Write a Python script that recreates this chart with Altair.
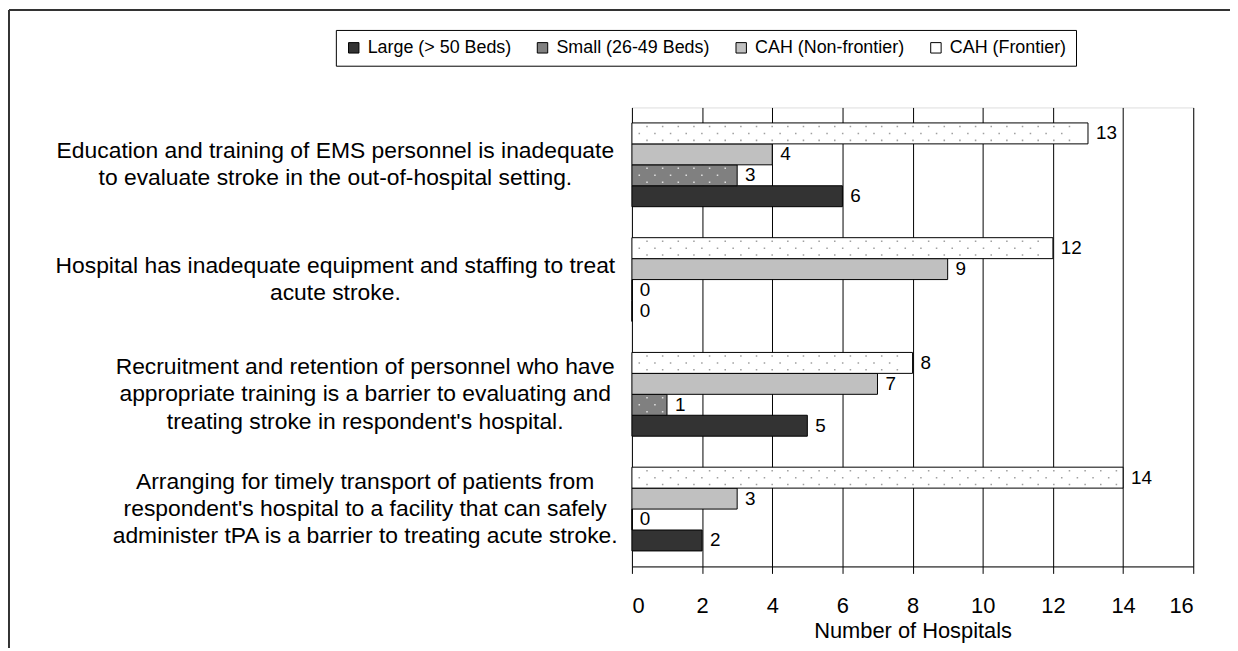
import altair as alt
import pandas as pd

questions = [
    "Education and training of EMS personnel is inadequate\nto evaluate stroke in the out-of-hospital setting.",
    "Hospital has inadequate equipment and staffing to treat\nacute stroke.",
    "Recruitment and retention of personnel who have\nappropriate training is a barrier to evaluating and\ntreating stroke in respondent's hospital.",
    "Arranging for timely transport of patients from\nrespondent's hospital to a facility that can safely\nadminister tPA is a barrier to treating acute stroke.",
]
series = ["Large (> 50 Beds)", "Small (26-49 Beds)", "CAH (Non-frontier)", "CAH (Frontier)"]
large = [6, 0, 5, 2]
small = [3, 0, 1, 0]
cah_nonfrontier = [4, 9, 7, 3]
cah_frontier = [13, 12, 8, 14]
colors = ["#333333", "#808080", "#c0c0c0", "#ffffff"]

values_by_series = [large, small, cah_nonfrontier, cah_frontier]
rows = []
for s, vals in zip(series, values_by_series):
    for q, v in zip(questions, vals):
        rows.append({"question": q, "series": s, "value": v})
df = pd.DataFrame(rows)
qdf = pd.DataFrame({"question": questions})

FONT = "Liberation Sans"
LABEL_SIZE = 23
LINE_H = 27.5
top_to_bottom = list(reversed(series))

y_enc = alt.Y(
    "question:N",
    sort=questions,
    scale=alt.Scale(paddingInner=0.27, paddingOuter=0.135),
    axis=alt.Axis(
        title=None,
        labels=False,
        tickBand="extent",
        tickSize=7,
        tickColor="black",
        domainColor="black",
        grid=False,
    ),
)
yoff = alt.YOffset("series:N", sort=top_to_bottom, scale=alt.Scale(paddingInner=0, paddingOuter=0))
x_enc = alt.X(
    "value:Q",
    scale=alt.Scale(domain=[0, 16]),
    axis=alt.Axis(
        title="Number of Hospitals",
        values=list(range(0, 17, 2)),
        tickSize=7,
        tickColor="black",
        domainColor="black",
        gridColor="black",
        gridWidth=1,
        labelFontSize=22,
        labelFont=FONT,
        labelColor="black",
        labelPadding=22,
        titleFontSize=22,
        titleFont=FONT,
        titleFontWeight="normal",
        titleColor="black",
        titlePadding=5,
    ),
)

base = alt.Chart(df)
bars = base.mark_bar(stroke="black", strokeWidth=1).encode(
    y=y_enc,
    yOffset=yoff,
    x=x_enc,
    color=alt.Color(
        "series:N",
        scale=alt.Scale(domain=series, range=colors),
        legend=alt.Legend(
            orient="none",
            legendX=-298,
            legendY=-78,
            direction="horizontal",
            title=None,
            strokeColor="black",
            fillColor="white",
            padding=9,
            symbolType="square",
            symbolSize=110,
            symbolStrokeColor="black",
            symbolStrokeWidth=1,
            symbolOpacity=1,
            labelFontSize=18,
            labelFont=FONT,
            labelColor="black",
            columnPadding=22,
            labelOffset=5,
        ),
    ),
)

# dotted fill texture (three staggered rows of tiny dots) for "Small" and "CAH (Frontier)"
DOT_TILE = (
    "M-0.11,-1.11h0.22v0.22h-0.22z "
    "M-0.11,0.89h0.22v0.22h-0.22z "
    "M-1.22,-0.11h0.22v0.22h-0.22z"
)

def dots(series_name, dot_color):
    return (
        base.transform_filter(alt.datum.series == series_name)
        .transform_calculate(d="sequence(0.43, datum.value - 0.1, 0.446)")
        .transform_flatten(["d"])
        .mark_point(shape=DOT_TILE, filled=True, size=196, color=dot_color, opacity=1, strokeWidth=0)
        .encode(
            y=alt.Y("question:N", sort=questions, axis=None),
            yOffset=yoff,
            x=alt.X("d:Q"),
        )
    )

dot_layers = [dots("CAH (Frontier)", "#a0a0a0"), dots("Small (26-49 Beds)", "#e0e0e0")]

values_text = base.mark_text(
    align="left", baseline="middle", dx=8, fontSize=19, font=FONT, color="black"
).encode(
    y=alt.Y("question:N", sort=questions, axis=None),
    yOffset=yoff,
    x=alt.X("value:Q"),
    text=alt.Text("value:Q"),
)

def question_labels(n_lines, center_x):
    return (
        alt.Chart(qdf)
        .transform_calculate(nl="length(split(datum.question, '\\n'))")
        .transform_filter(f"datum.nl == {n_lines}")
        .mark_text(
            align="center",
            baseline="middle",
            lineBreak="\n",
            lineHeight=LINE_H,
            fontSize=LABEL_SIZE,
            font=FONT,
            color="black",
            dy=-(n_lines - 1) * LINE_H / 2,
        )
        .encode(
            y=alt.Y("question:N", sort=questions, axis=None),
            x=alt.value(center_x),
            text="question:N",
        )
    )

labels2 = question_labels(2, -298.5)
labels3 = question_labels(3, -268.5)

frame_df = pd.DataFrame({"k": [0]})
frame_left = alt.Chart(frame_df).mark_rule(color="#333333", strokeWidth=2).encode(
    x=alt.value(-627), y=alt.value(-98), y2=alt.value(580)
)
frame_top = alt.Chart(frame_df).mark_rule(color="#333333", strokeWidth=2).encode(
    x=alt.value(-627), x2=alt.value(620), y=alt.value(-98)
)

chart = (
    alt.layer(bars, *dot_layers, values_text, labels2, labels3, frame_left, frame_top)
    .properties(
        width=565,
        height=462,
        autosize=alt.AutoSizeParams(type="none"),
        padding={"left": 628, "top": 98, "right": 37, "bottom": 80},
    )
    .configure_view(stroke="#a0a0a0", strokeWidth=1)
    .configure(background="white")
)

chart.save("out.html", embed_options={"renderer": "svg", "actions": False})
